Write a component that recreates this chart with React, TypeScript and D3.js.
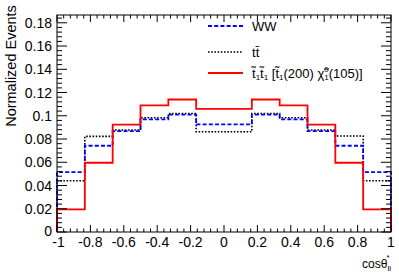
import React from "react";
import * as d3 from "d3";

const binEdges = d3.range(13).map((i) => -1 + i / 6);
const wwValues = [0.0516, 0.0742, 0.0868, 0.0969, 0.101, 0.0926, 0.0926, 0.101, 0.0969, 0.0868, 0.0742, 0.0516];
const ttValues = [0.0441, 0.0823, 0.0877, 0.0983, 0.102, 0.0863, 0.0863, 0.102, 0.0983, 0.0877, 0.0826, 0.0441];
const stopValues = [0.0195, 0.0596, 0.0924, 0.109, 0.114, 0.106, 0.106, 0.114, 0.109, 0.0924, 0.0596, 0.0195];
const yTicks = [0, 0.02, 0.04, 0.06, 0.08, 0.1, 0.12, 0.14, 0.16, 0.18];
const xTicks = [-1, -0.8, -0.6, -0.4, -0.2, 0, 0.2, 0.4, 0.6, 0.8, 1];

const W = 399, H = 277;
const L = 57, R = 391, T = 15, B = 232;
const font = "'Liberation Sans', Arial, sans-serif";

export default function App() {
  const x = d3.scaleLinear().domain([-1, 1]).range([L, R]);
  const y = d3.scaleLinear().domain([0, 0.1867]).range([B, T]);

  const stepPath = (vals: number[]) => {
    let p = `M${x(binEdges[0])},${y(0)}`;
    vals.forEach((v, i) => {
      p += `L${x(binEdges[i])},${y(v)}L${x(binEdges[i + 1])},${y(v)}`;
    });
    p += `L${x(binEdges[binEdges.length - 1])},${y(0)}`;
    return p;
  };

  const yMinor = d3.range(0, 0.1867, 0.004);
  const xMinor = d3.range(-1, 1.0001, 0.04);

  return (
    <div style={{ position: "absolute", left: 0, top: 0 }}>
      <svg width={W} height={H} style={{ display: "block", background: "#fff" }}>
        <rect x={0} y={0} width={W} height={H} fill="#fff" />
        {/* histograms */}
        <path d={stepPath(ttValues)} fill="none" stroke="#000" strokeWidth={1.6} strokeDasharray="1.6,1.6" />
        <path d={stepPath(wwValues)} fill="none" stroke="#0000ff" strokeWidth={1.8} strokeDasharray="4,2.2" />
        <path d={stepPath(stopValues)} fill="none" stroke="#ff0000" strokeWidth={1.8} />
        {/* frame */}
        <rect x={L} y={T} width={R - L} height={B - T} fill="none" stroke="#000" strokeWidth={1} />
        {/* y ticks */}
        {yMinor.map((v, i) => {
          const major = i % 5 === 0;
          const len = major ? 10 : 5;
          return (
            <g key={"y" + i}>
              <line x1={L} x2={L + len} y1={y(v)} y2={y(v)} stroke="#000" strokeWidth={1} />
              <line x1={R} x2={R - len} y1={y(v)} y2={y(v)} stroke="#000" strokeWidth={1} />
            </g>
          );
        })}
        {/* x ticks */}
        {xMinor.map((v, i) => {
          const major = i % 5 === 0;
          const len = major ? 7 : 3.5;
          return (
            <g key={"x" + i}>
              <line x1={x(v)} x2={x(v)} y1={B} y2={B - len} stroke="#000" strokeWidth={1} />
              <line x1={x(v)} x2={x(v)} y1={T} y2={T + len} stroke="#000" strokeWidth={1} />
            </g>
          );
        })}
        {/* y labels */}
        {yTicks.map((v) => (
          <text key={"yl" + v} x={L - 5} y={y(v) - (v === 0 ? 1.5 : 0)} dy="0.36em" textAnchor="end" fontFamily={font} fontSize={14}>
            {v === 0 ? "0" : String(+v.toFixed(2))}
          </text>
        ))}
        {/* x labels */}
        {xTicks.map((v, i) => (
          <text key={"xl" + v} x={x(v) + (i === 0 ? 1.5 : 0)} y={B + 15} textAnchor="middle" fontFamily={font} fontSize={14}>
            {String(+v.toFixed(1))}
          </text>
        ))}
        {/* y title */}
        <text transform={`translate(15.5,${66}) rotate(-90)`} textAnchor="middle" fontFamily={font} fontSize={14.5}>
          Normalized Events
        </text>
        {/* x title */}
        <text x={362} y={268} fontFamily={font} fontSize={12}>
          cosθ
        </text>
        <text x={386.5} y={259.5} fontFamily={font} fontSize={8}>*</text>
        <text x={387.5} y={271} fontFamily={font} fontSize={8}>ll</text>
        {/* legend */}
        <line x1={208} x2={243} y1={26} y2={26} stroke="#0000ff" strokeWidth={1.8} strokeDasharray="4,2.2" />
        <text x={252} y={31} fontFamily={font} fontSize={13}>WW</text>
        <line x1={208} x2={243} y1={52} y2={52} stroke="#000" strokeWidth={1.6} strokeDasharray="1.6,1.6" />
        <text x={252} y={56.5} fontFamily={font} fontSize={13}>t{"t\u0304"}</text>
        <line x1={208} x2={243} y1={73} y2={73} stroke="#ff0000" strokeWidth={1.8} />
        <text x={252} y={78} fontFamily={font} fontSize={13}>
          {"t\u0303"}<tspan fontSize={8} dy={2}>1</tspan>
          <tspan dy={-2}>{"t\u0303"}</tspan><tspan fontSize={8} dy={2}>1</tspan>
          <tspan dy={-2}> [{"t\u0303"}</tspan><tspan fontSize={8} dy={2}>1</tspan>
          <tspan dy={-2}>(200) {"χ\u0303"}</tspan>
          <tspan fontSize={8} dy={-6}>0</tspan>
          <tspan fontSize={8} dx={-4.5} dy={8}>1</tspan>
          <tspan dy={-2}>(105)]</tspan>
        </text>
      </svg>
    </div>
  );
}
